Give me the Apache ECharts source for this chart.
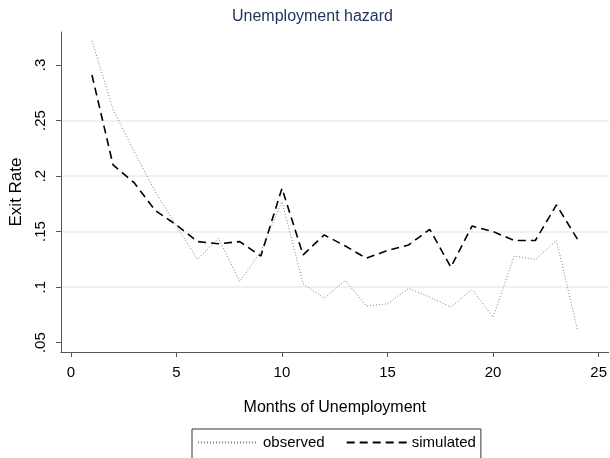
<!DOCTYPE html>
<html>
<head>
<meta charset="utf-8">
<script src="https://cdn.jsdelivr.net/npm/echarts@6/dist/echarts.min.js"></script>
<style>html,body{margin:0;padding:0;background:#fff}#c{width:610px;height:458px}</style>
</head>
<body>
<div id="c"></div>
<script>
var months = [1,2,3,4,5,6,7,8,9,10,11,12,13,14,15,16,17,18,19,20,21,22,23,24];
var observed = [0.322,0.260,0.222,0.186,0.155,0.125,0.144,0.105,0.132,0.177,0.103,0.090,0.106,0.083,0.085,0.099,0.091,0.082,0.098,0.073,0.128,0.125,0.142,0.061];
var simulated = [0.291,0.210,0.194,0.169,0.156,0.141,0.139,0.141,0.128,0.189,0.129,0.147,0.137,0.126,0.133,0.138,0.152,0.118,0.155,0.150,0.142,0.142,0.174,0.143];
var xTicks = [0,5,10,15,20,25];
var yTicks = [0.05,0.1,0.15,0.2,0.25,0.3];

function pairs(xs, ys){ return xs.map(function(x,i){ return [x, ys[i]]; }); }
var FONT = 'Liberation Sans, Arial, sans-serif';
var chart = echarts.init(document.getElementById('c'));
chart.setOption({
  animation: false,
  backgroundColor: '#fff',
  title: {
    text: 'Unemployment hazard',
    left: 227, top: 4,
    textStyle: {fontFamily: FONT, fontSize: 16, fontWeight: 'normal', color: '#24345c'}
  },
  legend: {
    left: 192, top: 429,
    padding: [6, 5, 20, 5],
    borderColor: '#333', borderWidth: 1,
    itemWidth: 60, itemHeight: 10, itemGap: 21,
    itemStyle: {opacity: 0},
    textStyle: {fontFamily: FONT, fontSize: 15, color: '#000'},
    data: ['observed', 'simulated']
  },
  grid: {left: 60, right: 0, top: 32, bottom: 106},
  xAxis: {
    type: 'value', min: -0.47, max: 25.47,
    name: 'Months of Unemployment', nameLocation: 'middle', nameGap: 48,
    nameTextStyle: {fontFamily: FONT, fontSize: 16, color: '#000'},
    axisLine: {show: true, onZero: false, lineStyle: {color: '#555', width: 1}},
    axisTick: {show: true, length: 5, customValues: xTicks, lineStyle: {color: '#555'}},
    axisLabel: {customValues: xTicks, margin: 13, fontFamily: FONT, fontSize: 15, color: '#000'},
    splitLine: {show: false}
  },
  yAxis: {
    type: 'value', min: 0.0416, max: 0.3297,
    name: 'Exit Rate', nameLocation: 'middle', nameGap: 32,
    nameTextStyle: {fontFamily: FONT, fontSize: 17, color: '#000'},
    axisLine: {show: true, onZero: false, lineStyle: {color: '#555', width: 1}},
    axisTick: {show: true, length: 5, customValues: yTicks, lineStyle: {color: '#555'}},
    axisLabel: {
      customValues: yTicks, rotate: 90, margin: 13,
      fontFamily: FONT, fontSize: 15, color: '#000',
      formatter: function(v){ return String(+v.toFixed(2)).replace(/^0/, ''); }
    },
    splitLine: {show: true, showMinLine: false, showMaxLine: false, lineStyle: {color: '#eaf2f3', width: 2}}
  },
  series: [
    {
      name: 'observed', type: 'line', data: pairs(months, observed),
      symbol: 'none', color: '#888',
      lineStyle: {color: '#808080', width: 1, type: [1, 2]}
    },
    {
      name: 'simulated', type: 'line', data: pairs(months, simulated),
      symbol: 'none', color: '#000',
      lineStyle: {color: '#000', width: 1.6, type: [8, 5]}
    }
  ]
});
</script>
</body>
</html>
